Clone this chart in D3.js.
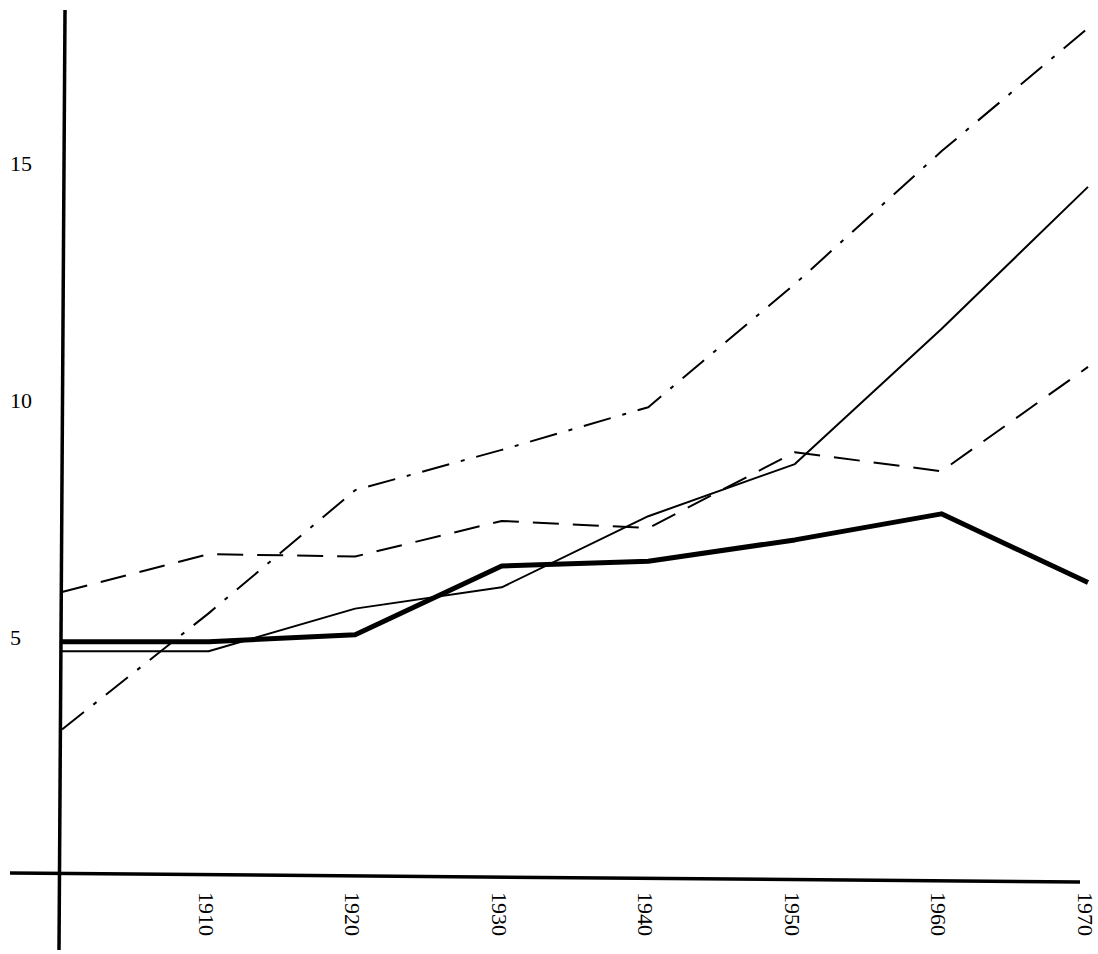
<!DOCTYPE html>
<html><head><meta charset="utf-8">
<script src="https://cdn.jsdelivr.net/npm/d3@7"></script>
<style>body{margin:0;background:#fff}</style>
</head><body>
<svg id="chart" width="1098" height="954"></svg>
<script>
const years = [1900, 1910, 1920, 1930, 1940, 1950, 1960, 1970];
const tickYears = [1910, 1920, 1930, 1940, 1950, 1960, 1970];
const yTicks = [5, 10, 15];
const thickSolid = [4.9, 4.9, 5.05, 6.5, 6.6, 7.05, 7.6, 6.15];
const thinSolid = [4.7, 4.7, 5.6, 6.05, 7.55, 8.65, 11.5, 14.5];
const dashed = [5.95, 6.75, 6.7, 7.45, 7.3, 8.9, 8.5, 10.7];
const dashDot = [3.05, 5.5, 8.1, 8.95, 9.85, 12.45, 15.25, 17.85];

const svg = d3.select("#chart");
const x = d3.scaleLinear().domain([1900, 1970]).range([62, 1088]);
const y = d3.scaleLinear().domain([0, 18]).range([874, 21]);

// Achsen
svg.append("line").attr("x1", 10).attr("y1", 873).attr("x2", 1080).attr("y2", 882)
  .attr("stroke", "#000").attr("stroke-width", 3.5);
svg.append("line").attr("x1", 65).attr("y1", 10).attr("x2", 59).attr("y2", 950)
  .attr("stroke", "#000").attr("stroke-width", 3.5);

svg.selectAll(".yl").data(yTicks).enter().append("text")
  .attr("x", 10).attr("y", d => y(d) + 8)
  .attr("font-family", "Liberation Serif, DejaVu Serif, serif").attr("font-size", 22)
  .text(d => d);

svg.selectAll(".xl").data(tickYears).enter().append("text")
  .attr("transform", d => `translate(${Math.min(x(d) - 10, 1078)},${892}) rotate(90)`)
  .attr("font-family", "Liberation Serif, DejaVu Serif, serif").attr("font-size", 22)
  .text(d => d);

const line = d3.line().x((d, i) => x(years[i])).y(d => y(d));
const series = [
  {v: dashDot, w: 2, dash: "28,12,4,12"},
  {v: dashed, w: 2, dash: "26,14"},
  {v: thinSolid, w: 2, dash: null},
  {v: thickSolid, w: 5, dash: null}
];
series.forEach(s => {
  svg.append("path").attr("d", line(s.v)).attr("fill", "none")
    .attr("stroke", "#000").attr("stroke-width", s.w)
    .attr("stroke-dasharray", s.dash).attr("stroke-linejoin", "round");
});
</script>
</body></html>
